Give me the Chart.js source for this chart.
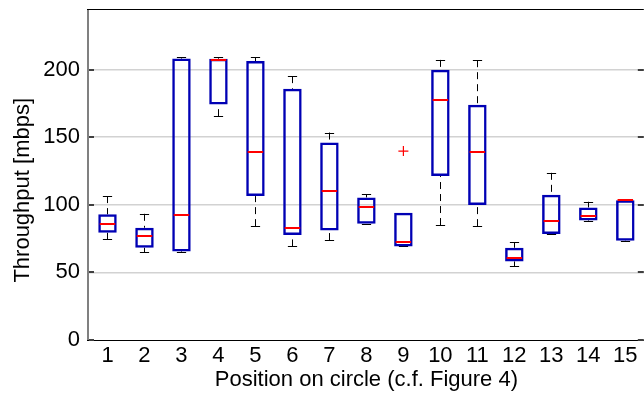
<!DOCTYPE html>
<html><head><meta charset="utf-8">
<script src="https://cdn.jsdelivr.net/npm/chart.js@4/dist/chart.umd.min.js"></script>
<style>html,body{margin:0;padding:0;overflow:hidden;background:#fff}#wrap{width:650px;height:393px}</style>
</head><body><div id="wrap"><canvas id="c" width="650" height="393"></canvas></div>
<script>
const categories = ['1','2','3','4','5','6','7','8','9','10','11','12','13','14','15'];
const lowerWhisker = [74.6, 64.8, 65.0, 165.5, 84.2, 69.2, 73.9, 86.0, 69.2, 85.0, 84.2, 54.4, 78.3, 87.9, 72.9];
const q1 =           [79.3, 68.2, 65.5, 174.1, 106.4, 77.6, 81.0, 86.0, 69.2, 121.2, 99.8, 58.1, 78.3, 88.4, 73.4];
const median =       [86.0, 76.8, 92.6, 207.4, 138.7, 83.0, 110.1, 98.0, 72.2, 177.6, 138.7, 60.8, 87.7, 91.6, 103.4];
const q3 =           [92.9, 83.0, 208.1, 208.0, 206.2, 185.7, 146.1, 105.4, 94.1, 199.8, 173.9, 68.2, 107.4, 98.0, 103.4];
const upperWhisker = [106.4, 93.3, 208.9, 208.9, 208.9, 195.1, 153.4, 107.9, 94.1, 207.1, 206.9, 72.2, 123.6, 102.2, 104.2];
const outlierPositions = ['9'];
const outlierValues = [139.7];
const yTicks = [0, 50, 100, 150, 200];
const yMax = 244;

const BOX_COLOR = '#0000b4';
const FONT = 'Liberation Sans, Arial, sans-serif';

const boxPlugin = {
  id: 'boxParts',
  beforeDatasetsDraw(chart) {
    const {ctx, scales: {x, y}} = chart;
    const step = x.getPixelForValue(1) - x.getPixelForValue(0);
    ctx.save();
    ctx.strokeStyle = '#000';
    ctx.lineWidth = 1;
    categories.forEach((c, i) => {
      const cx = Math.round(x.getPixelForValue(i)) + 0.5;
      ctx.setLineDash([7, 5]);
      ctx.beginPath();
      ctx.moveTo(cx, y.getPixelForValue(upperWhisker[i]));
      ctx.lineTo(cx, y.getPixelForValue(q3[i]));
      ctx.moveTo(cx, y.getPixelForValue(lowerWhisker[i]));
      ctx.lineTo(cx, y.getPixelForValue(q1[i]));
      ctx.stroke();
      ctx.setLineDash([]);
      const cw = step * 0.125;
      ctx.beginPath();
      [upperWhisker[i], lowerWhisker[i]].forEach(v => {
        const py = Math.round(y.getPixelForValue(v)) + 0.5;
        ctx.moveTo(cx - cw, py);
        ctx.lineTo(cx + cw, py);
      });
      ctx.stroke();
    });
    ctx.restore();
  },
  afterDatasetsDraw(chart) {
    const {ctx, scales: {x, y}} = chart;
    const step = x.getPixelForValue(1) - x.getPixelForValue(0);
    ctx.save();
    ctx.strokeStyle = '#ff0000';
    ctx.lineWidth = 2;
    categories.forEach((c, i) => {
      const cx = x.getPixelForValue(i);
      const hw = step * 0.25 - 1.5;
      const py = Math.round(y.getPixelForValue(median[i]));
      ctx.beginPath();
      ctx.moveTo(cx - hw, py);
      ctx.lineTo(cx + hw, py);
      ctx.stroke();
    });
    ctx.restore();
  },
  afterDraw(chart) {
    const {ctx, chartArea: a, scales: {y}} = chart;
    ctx.save();
    ctx.fillStyle = '#808080';
    ctx.fillRect(a.left - 2, a.top, 2, a.bottom - a.top + 1);
    ctx.fillStyle = '#000';
    ctx.fillRect(a.left - 2, a.top - 1, a.right - a.left + 2, 1);
    ctx.fillRect(a.left - 2, a.bottom, a.right - a.left + 2, 1);
    ctx.fillStyle = '#404040';
    yTicks.forEach(v => {
      const py = Math.round(y.getPixelForValue(v));
      ctx.fillRect(a.left, py - 1, 5, 2);
      ctx.fillRect(a.right - 6, py - 1, 6, 2);
    });
    ctx.restore();
  }
};

new Chart(document.getElementById('c'), {
  data: {
    labels: categories,
    datasets: [
      {
        type: 'bar',
        data: q1.map((v, i) => [v, q3[i]]),
        backgroundColor: 'rgba(0,0,0,0)',
        borderColor: BOX_COLOR,
        borderWidth: 2.5,
        borderSkipped: false,
        barPercentage: 0.5,
        categoryPercentage: 1,
        order: 2
      },
      {
        type: 'line',
        data: outlierPositions.map((p, i) => ({x: p, y: outlierValues[i]})),
        showLine: false,
        pointStyle: 'cross',
        pointRadius: 5,
        pointBorderColor: '#ff0000',
        pointBackgroundColor: '#ff0000',
        pointBorderWidth: 1.2,
        order: 1
      }
    ]
  },
  options: {
    responsive: false,
    animation: false,
    layout: {padding: {top: 10, right: 4, left: 0, bottom: 0}},
    plugins: {legend: {display: false}, tooltip: {enabled: false}},
    scales: {
      x: {
        type: 'category',
        offset: true,
        grid: {display: false, drawTicks: false},
        border: {display: false},
        ticks: {color: '#000', font: {family: FONT, size: 22}, padding: 3, maxRotation: 0, autoSkip: false},
        title: {display: true, text: 'Position on circle (c.f. Figure 4)', color: '#000', font: {family: FONT, size: 22}, padding: {top: 0, bottom: 0}},
        afterFit(s) { s.height = 53; s.paddingLeft = 0; s.paddingRight = 0; }
      },
      y: {
        min: 0, max: yMax,
        afterBuildTicks(s) { s.ticks = yTicks.map(v => ({value: v})); },
        grid: {drawTicks: false, color: ctx => ctx.tick && ctx.tick.value === 0 ? 'rgba(0,0,0,0)' : '#d2d2d2', lineWidth: 1.5},
        border: {display: false},
        ticks: {color: '#000', font: {family: FONT, size: 22}, padding: 9},
        title: {display: true, text: 'Throughput [mbps]     ', color: '#000', font: {family: FONT, size: 22}, padding: {top: 10}},
        afterFit(s) { s.width = 89; s.paddingTop = 0; s.paddingBottom = 0; }
      }
    }
  },
  plugins: [boxPlugin]
});
</script>
</body></html>
